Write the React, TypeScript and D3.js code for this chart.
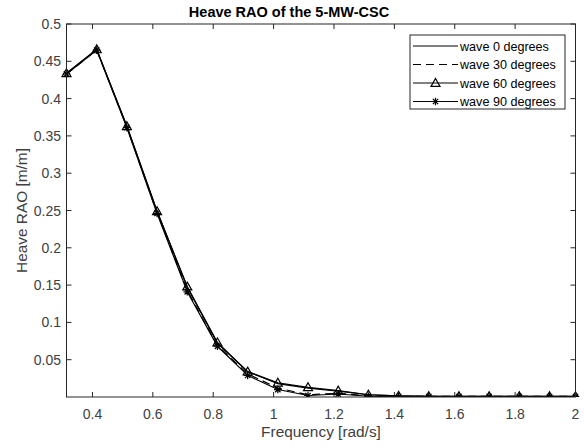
import React from "react";
import * as d3 from "d3";

const freq = [0.314, 0.414, 0.514, 0.614, 0.714, 0.814, 0.914, 1.014, 1.114, 1.214, 1.314, 1.414, 1.514, 1.614, 1.714, 1.814, 1.914, 2.0];
const wave0 = [0.434, 0.466, 0.363, 0.249, 0.147, 0.072, 0.034, 0.018, 0.012, 0.008, 0.003, 0.0015, 0.001, 0.001, 0.001, 0.001, 0.001, 0.001];
const wave30 = [0.433, 0.465, 0.362, 0.247, 0.143, 0.069, 0.031, 0.012, 0.003, 0.005, 0.0015, 0.001, 0.001, 0.001, 0.001, 0.001, 0.001, 0.001];
const wave60 = [0.434, 0.466, 0.363, 0.249, 0.148, 0.073, 0.034, 0.019, 0.013, 0.0085, 0.003, 0.0015, 0.001, 0.001, 0.001, 0.001, 0.001, 0.001];
const wave90 = [0.433, 0.465, 0.361, 0.246, 0.141, 0.068, 0.029, 0.010, 0.002, 0.004, 0.001, 0.0005, 0.0005, 0.0005, 0.0005, 0.0005, 0.0005, 0.0005];
const seriesNames = ["wave 0 degrees", "wave 30 degrees", "wave 60 degrees", "wave 90 degrees"];
const xTicks = [0.4, 0.6, 0.8, 1, 1.2, 1.4, 1.6, 1.8, 2];
const yTicks = [0.05, 0.1, 0.15, 0.2, 0.25, 0.3, 0.35, 0.4, 0.45, 0.5];

const W = 584, H = 448;
const L = 66.5, R = 575.5, T = 24, B = 397;
const FONT = "'Liberation Sans', Arial, Helvetica, sans-serif";
const AX = "#262626";
const TXT = "#404040";

function Triangle({ x, y }: { x: number; y: number }) {
  const h = 4.5;
  return <path d={`M${x},${y - h}L${x + h},${y + h * 0.75}L${x - h},${y + h * 0.75}Z`} fill="none" stroke="#000" strokeWidth={1.2} />;
}
function Star({ x, y }: { x: number; y: number }) {
  const r = 3.8, d = r * 0.707;
  return <path d={`M${x - r},${y}L${x + r},${y}M${x},${y - r}L${x},${y + r}M${x - d},${y - d}L${x + d},${y + d}M${x - d},${y + d}L${x + d},${y - d}`} stroke="#000" strokeWidth={1.2} fill="none" />;
}

export default function App() {
  const x = d3.scaleLinear().domain([0.314, 2.0]).range([L, R]);
  const y = d3.scaleLinear().domain([0, 0.5]).range([B, T]);
  const line = d3.line<number>().x((_, i) => x(freq[i])).y((v) => y(v));
  const series = [
    { vals: wave0, dash: undefined, marker: null },
    { vals: wave30, dash: "8,5", marker: null },
    { vals: wave60, dash: undefined, marker: "tri" },
    { vals: wave90, dash: undefined, marker: "star" },
  ];
  const lgX = 410, lgY = 35, lgW = 155, lgH = 74;
  const rowY = [46, 64.5, 83, 101.5];
  const tick = 5;
  return (
    <svg width={W} height={H} style={{ position: "absolute", left: 0, top: 0, background: "#fff" }} fontFamily={FONT}>
      <rect x={0} y={0} width={W} height={H} fill="#fff" />
      <defs>
        <clipPath id="plotclip">
          <rect x={L - 6} y={T - 6} width={R - L + 12} height={B - T + 6} />
        </clipPath>
      </defs>
      {xTicks.map((t) => (
        <g key={"xt" + t}>
          <line x1={x(t)} x2={x(t)} y1={B} y2={B - tick} stroke={AX} strokeWidth={1} />
          <line x1={x(t)} x2={x(t)} y1={T} y2={T + tick} stroke={AX} strokeWidth={1} />
          <text x={x(t)} y={419} textAnchor="middle" fontSize={14} fill={TXT}>{String(t)}</text>
        </g>
      ))}
      {yTicks.map((t) => (
        <g key={"yt" + t}>
          <line x1={L} x2={L + tick} y1={y(t)} y2={y(t)} stroke={AX} strokeWidth={1} />
          <line x1={R} x2={R - tick} y1={y(t)} y2={y(t)} stroke={AX} strokeWidth={1} />
          <text x={61} y={y(t) + 5} textAnchor="end" fontSize={14} fill={TXT}>{String(t)}</text>
        </g>
      ))}
      <g clipPath="url(#plotclip)">
        {series.map((s, i) => (
          <path key={"s" + i} d={line(s.vals) || ""} fill="none" stroke="#000" strokeWidth={1.2} strokeDasharray={s.dash} />
        ))}
        {series.map((s, i) =>
          s.marker === "tri"
            ? s.vals.map((v, j) => <Triangle key={`m${i}-${j}`} x={x(freq[j])} y={y(v)} />)
            : s.marker === "star"
            ? s.vals.map((v, j) => <Star key={`m${i}-${j}`} x={x(freq[j])} y={y(v)} />)
            : null
        )}
      </g>
      <rect x={L} y={T} width={R - L} height={B - T} fill="none" stroke={AX} strokeWidth={1} />
      <text x={289} y={17} textAnchor="middle" fontSize={14.5} fontWeight="bold" fill="#000">Heave RAO of the 5-MW-CSC</text>
      <text x={321} y={437} textAnchor="middle" fontSize={15.4} fill={TXT}>Frequency [rad/s]</text>
      <text transform={`translate(27,${(T + B) / 2}) rotate(-90)`} textAnchor="middle" fontSize={15.4} fill={TXT}>Heave RAO [m/m]</text>
      <rect x={lgX} y={lgY} width={lgW} height={lgH} fill="#fff" stroke={AX} strokeWidth={1} />
      {series.map((s, i) => (
        <g key={"lg" + i}>
          <line x1={413} x2={458} y1={rowY[i]} y2={rowY[i]} stroke="#000" strokeWidth={1} strokeDasharray={s.dash} />
          {s.marker === "tri" && <Triangle x={435.5} y={rowY[i]} />}
          {s.marker === "star" && <Star x={435.5} y={rowY[i]} />}
          <text x={460} y={rowY[i] + 4.5} fontSize={12.6} fill="#000">{seriesNames[i]}</text>
        </g>
      ))}
    </svg>
  );
}
